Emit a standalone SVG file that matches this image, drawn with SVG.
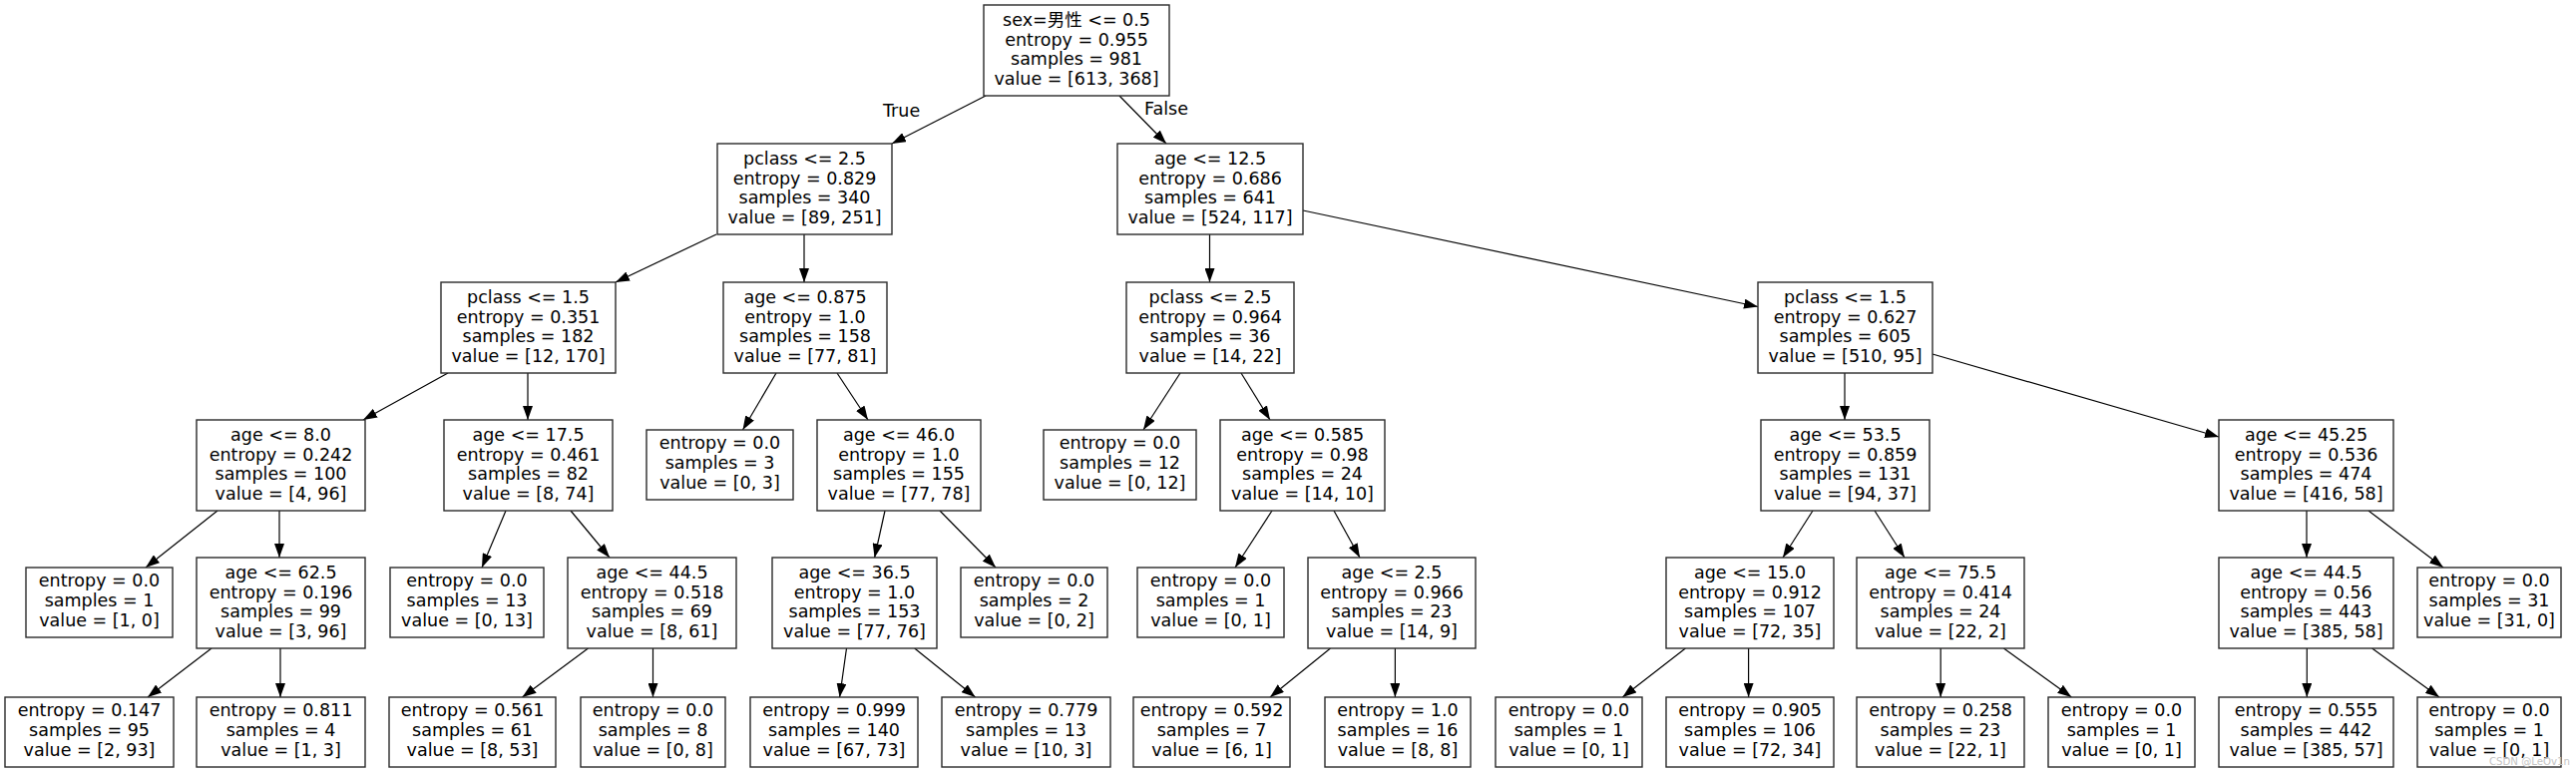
<svg xmlns="http://www.w3.org/2000/svg" width="2582" height="775" viewBox="0 0 2582 775">
<style>
rect{fill:#fff;stroke:#2a2a2a;stroke-width:1.4}
text{font-family:"DejaVu Sans","Noto Sans CJK SC",sans-serif;font-size:17.5px;fill:#000}
.node text{text-anchor:middle}
#edges line{stroke:#000;stroke-width:1.2;marker-end:url(#ah)}
.wm{font-size:11px;fill:#c4c4c4}
</style>
<defs>
<marker id="ah" markerUnits="userSpaceOnUse" markerWidth="14" markerHeight="10" viewBox="0 0 14 10" refX="14" refY="5" orient="auto"><path d="M0,0L14,5L0,10z" fill="#000"/></marker>
</defs>
<rect x="0" y="0" width="2582" height="775" style="stroke:none"/>
<g id="edges">
<line x1="988" y1="96" x2="894" y2="144"/>
<line x1="1122" y1="96" x2="1169" y2="144"/>
<line x1="718" y1="235" x2="617" y2="283"/>
<line x1="806" y1="235" x2="806" y2="283"/>
<line x1="1212.5" y1="235" x2="1212.5" y2="283"/>
<line x1="1306" y1="211" x2="1762" y2="307.5"/>
<line x1="449" y1="374" x2="364" y2="421"/>
<line x1="529" y1="374" x2="529" y2="421"/>
<line x1="778" y1="374" x2="744.5" y2="431"/>
<line x1="839" y1="374" x2="870" y2="421"/>
<line x1="1183" y1="374" x2="1146" y2="431"/>
<line x1="1244" y1="374" x2="1273" y2="421"/>
<line x1="1849" y1="374" x2="1849" y2="421"/>
<line x1="1937" y1="355" x2="2224" y2="438"/>
<line x1="218" y1="512" x2="146" y2="569"/>
<line x1="280" y1="512" x2="280" y2="559"/>
<line x1="507" y1="512" x2="483" y2="569"/>
<line x1="572" y1="512" x2="611" y2="559"/>
<line x1="887" y1="512" x2="876.6" y2="559"/>
<line x1="942" y1="512" x2="998" y2="569"/>
<line x1="1275" y1="512" x2="1238" y2="569"/>
<line x1="1337" y1="512" x2="1363" y2="559"/>
<line x1="1817" y1="512" x2="1787" y2="559"/>
<line x1="1879" y1="512" x2="1909" y2="559"/>
<line x1="2312" y1="512" x2="2312" y2="559"/>
<line x1="2374" y1="512" x2="2449" y2="569"/>
<line x1="212" y1="650" x2="148" y2="699"/>
<line x1="281" y1="650" x2="281" y2="699"/>
<line x1="589.5" y1="650" x2="523.5" y2="699"/>
<line x1="654.5" y1="650" x2="654.5" y2="699"/>
<line x1="848.5" y1="650" x2="841.6" y2="699"/>
<line x1="916.7" y1="650" x2="977.6" y2="699"/>
<line x1="1333.5" y1="650" x2="1273" y2="699"/>
<line x1="1398.4" y1="650" x2="1398.4" y2="699"/>
<line x1="1689.4" y1="650" x2="1626.3" y2="699"/>
<line x1="1752.6" y1="650" x2="1752.6" y2="699"/>
<line x1="1945.2" y1="650" x2="1945.2" y2="699"/>
<line x1="2008.4" y1="650" x2="2076.3" y2="699"/>
<line x1="2312.3" y1="650" x2="2312.3" y2="699"/>
<line x1="2377.6" y1="650" x2="2445" y2="699"/>
<text x="885" y="117">True</text>
<text x="1147" y="115">False</text>
</g>
<g id="n0" class="node" transform="translate(1079,5)"><rect x="-93" y="0" width="186" height="91"/><text><tspan x="0" y="21">sex=男性 &lt;= 0.5</tspan><tspan x="0" y="40.7">entropy = 0.955</tspan><tspan x="0" y="60.4">samples = 981</tspan><tspan x="0" y="80.1">value = [613, 368]</tspan></text></g>
<g id="n1" class="node" transform="translate(806.5,144)"><rect x="-87.5" y="0" width="175" height="91"/><text><tspan x="0" y="21">pclass &lt;= 2.5</tspan><tspan x="0" y="40.7">entropy = 0.829</tspan><tspan x="0" y="60.4">samples = 340</tspan><tspan x="0" y="80.1">value = [89, 251]</tspan></text></g>
<g id="n2" class="node" transform="translate(1213,144)"><rect x="-93" y="0" width="186" height="91"/><text><tspan x="0" y="21">age &lt;= 12.5</tspan><tspan x="0" y="40.7">entropy = 0.686</tspan><tspan x="0" y="60.4">samples = 641</tspan><tspan x="0" y="80.1">value = [524, 117]</tspan></text></g>
<g id="n3" class="node" transform="translate(529.5,283)"><rect x="-87.5" y="0" width="175" height="91"/><text><tspan x="0" y="21">pclass &lt;= 1.5</tspan><tspan x="0" y="40.7">entropy = 0.351</tspan><tspan x="0" y="60.4">samples = 182</tspan><tspan x="0" y="80.1">value = [12, 170]</tspan></text></g>
<g id="n4" class="node" transform="translate(807,283)"><rect x="-82" y="0" width="164" height="91"/><text><tspan x="0" y="21">age &lt;= 0.875</tspan><tspan x="0" y="40.7">entropy = 1.0</tspan><tspan x="0" y="60.4">samples = 158</tspan><tspan x="0" y="80.1">value = [77, 81]</tspan></text></g>
<g id="n5" class="node" transform="translate(1213,283)"><rect x="-84" y="0" width="168" height="91"/><text><tspan x="0" y="21">pclass &lt;= 2.5</tspan><tspan x="0" y="40.7">entropy = 0.964</tspan><tspan x="0" y="60.4">samples = 36</tspan><tspan x="0" y="80.1">value = [14, 22]</tspan></text></g>
<g id="n6" class="node" transform="translate(1849.5,283)"><rect x="-87.5" y="0" width="175" height="91"/><text><tspan x="0" y="21">pclass &lt;= 1.5</tspan><tspan x="0" y="40.7">entropy = 0.627</tspan><tspan x="0" y="60.4">samples = 605</tspan><tspan x="0" y="80.1">value = [510, 95]</tspan></text></g>
<g id="n7" class="node" transform="translate(281.5,421)"><rect x="-84.5" y="0" width="169" height="91"/><text><tspan x="0" y="21">age &lt;= 8.0</tspan><tspan x="0" y="40.7">entropy = 0.242</tspan><tspan x="0" y="60.4">samples = 100</tspan><tspan x="0" y="80.1">value = [4, 96]</tspan></text></g>
<g id="n8" class="node" transform="translate(529.5,421)"><rect x="-84.5" y="0" width="169" height="91"/><text><tspan x="0" y="21">age &lt;= 17.5</tspan><tspan x="0" y="40.7">entropy = 0.461</tspan><tspan x="0" y="60.4">samples = 82</tspan><tspan x="0" y="80.1">value = [8, 74]</tspan></text></g>
<g id="n9" class="node" transform="translate(721.5,431)"><rect x="-73.5" y="0" width="147" height="70"/><text><tspan x="0" y="19.3">entropy = 0.0</tspan><tspan x="0" y="39">samples = 3</tspan><tspan x="0" y="58.7">value = [0, 3]</tspan></text></g>
<g id="n10" class="node" transform="translate(901,421)"><rect x="-82" y="0" width="164" height="91"/><text><tspan x="0" y="21">age &lt;= 46.0</tspan><tspan x="0" y="40.7">entropy = 1.0</tspan><tspan x="0" y="60.4">samples = 155</tspan><tspan x="0" y="80.1">value = [77, 78]</tspan></text></g>
<g id="n11" class="node" transform="translate(1122.5,431)"><rect x="-76.5" y="0" width="153" height="70"/><text><tspan x="0" y="19.3">entropy = 0.0</tspan><tspan x="0" y="39">samples = 12</tspan><tspan x="0" y="58.7">value = [0, 12]</tspan></text></g>
<g id="n12" class="node" transform="translate(1305.5,421)"><rect x="-82.5" y="0" width="165" height="91"/><text><tspan x="0" y="21">age &lt;= 0.585</tspan><tspan x="0" y="40.7">entropy = 0.98</tspan><tspan x="0" y="60.4">samples = 24</tspan><tspan x="0" y="80.1">value = [14, 10]</tspan></text></g>
<g id="n13" class="node" transform="translate(1849.5,421)"><rect x="-84.5" y="0" width="169" height="91"/><text><tspan x="0" y="21">age &lt;= 53.5</tspan><tspan x="0" y="40.7">entropy = 0.859</tspan><tspan x="0" y="60.4">samples = 131</tspan><tspan x="0" y="80.1">value = [94, 37]</tspan></text></g>
<g id="n14" class="node" transform="translate(2311.5,421)"><rect x="-87.5" y="0" width="175" height="91"/><text><tspan x="0" y="21">age &lt;= 45.25</tspan><tspan x="0" y="40.7">entropy = 0.536</tspan><tspan x="0" y="60.4">samples = 474</tspan><tspan x="0" y="80.1">value = [416, 58]</tspan></text></g>
<g id="n15" class="node" transform="translate(99.5,569)"><rect x="-73.5" y="0" width="147" height="70"/><text><tspan x="0" y="19.3">entropy = 0.0</tspan><tspan x="0" y="39">samples = 1</tspan><tspan x="0" y="58.7">value = [1, 0]</tspan></text></g>
<g id="n16" class="node" transform="translate(281.5,559)"><rect x="-84.5" y="0" width="169" height="91"/><text><tspan x="0" y="21">age &lt;= 62.5</tspan><tspan x="0" y="40.7">entropy = 0.196</tspan><tspan x="0" y="60.4">samples = 99</tspan><tspan x="0" y="80.1">value = [3, 96]</tspan></text></g>
<g id="n17" class="node" transform="translate(468,569)"><rect x="-77" y="0" width="154" height="70"/><text><tspan x="0" y="19.3">entropy = 0.0</tspan><tspan x="0" y="39">samples = 13</tspan><tspan x="0" y="58.7">value = [0, 13]</tspan></text></g>
<g id="n18" class="node" transform="translate(653.5,559)"><rect x="-84.5" y="0" width="169" height="91"/><text><tspan x="0" y="21">age &lt;= 44.5</tspan><tspan x="0" y="40.7">entropy = 0.518</tspan><tspan x="0" y="60.4">samples = 69</tspan><tspan x="0" y="80.1">value = [8, 61]</tspan></text></g>
<g id="n19" class="node" transform="translate(856.5,559)"><rect x="-82.5" y="0" width="165" height="91"/><text><tspan x="0" y="21">age &lt;= 36.5</tspan><tspan x="0" y="40.7">entropy = 1.0</tspan><tspan x="0" y="60.4">samples = 153</tspan><tspan x="0" y="80.1">value = [77, 76]</tspan></text></g>
<g id="n20" class="node" transform="translate(1036.5,569)"><rect x="-73.5" y="0" width="147" height="70"/><text><tspan x="0" y="19.3">entropy = 0.0</tspan><tspan x="0" y="39">samples = 2</tspan><tspan x="0" y="58.7">value = [0, 2]</tspan></text></g>
<g id="n21" class="node" transform="translate(1213.5,569)"><rect x="-73.5" y="0" width="147" height="70"/><text><tspan x="0" y="19.3">entropy = 0.0</tspan><tspan x="0" y="39">samples = 1</tspan><tspan x="0" y="58.7">value = [0, 1]</tspan></text></g>
<g id="n22" class="node" transform="translate(1395,559)"><rect x="-84" y="0" width="168" height="91"/><text><tspan x="0" y="21">age &lt;= 2.5</tspan><tspan x="0" y="40.7">entropy = 0.966</tspan><tspan x="0" y="60.4">samples = 23</tspan><tspan x="0" y="80.1">value = [14, 9]</tspan></text></g>
<g id="n23" class="node" transform="translate(1754,559)"><rect x="-84" y="0" width="168" height="91"/><text><tspan x="0" y="21">age &lt;= 15.0</tspan><tspan x="0" y="40.7">entropy = 0.912</tspan><tspan x="0" y="60.4">samples = 107</tspan><tspan x="0" y="80.1">value = [72, 35]</tspan></text></g>
<g id="n24" class="node" transform="translate(1945,559)"><rect x="-84" y="0" width="168" height="91"/><text><tspan x="0" y="21">age &lt;= 75.5</tspan><tspan x="0" y="40.7">entropy = 0.414</tspan><tspan x="0" y="60.4">samples = 24</tspan><tspan x="0" y="80.1">value = [22, 2]</tspan></text></g>
<g id="n25" class="node" transform="translate(2311.5,559)"><rect x="-87.5" y="0" width="175" height="91"/><text><tspan x="0" y="21">age &lt;= 44.5</tspan><tspan x="0" y="40.7">entropy = 0.56</tspan><tspan x="0" y="60.4">samples = 443</tspan><tspan x="0" y="80.1">value = [385, 58]</tspan></text></g>
<g id="n26" class="node" transform="translate(2495,569)"><rect x="-72" y="0" width="144" height="70"/><text><tspan x="0" y="19.3">entropy = 0.0</tspan><tspan x="0" y="39">samples = 31</tspan><tspan x="0" y="58.7">value = [31, 0]</tspan></text></g>
<g id="n27" class="node" transform="translate(89.5,699)"><rect x="-84.5" y="0" width="169" height="70"/><text><tspan x="0" y="19.3">entropy = 0.147</tspan><tspan x="0" y="39">samples = 95</tspan><tspan x="0" y="58.7">value = [2, 93]</tspan></text></g>
<g id="n28" class="node" transform="translate(281.5,699)"><rect x="-84.5" y="0" width="169" height="70"/><text><tspan x="0" y="19.3">entropy = 0.811</tspan><tspan x="0" y="39">samples = 4</tspan><tspan x="0" y="58.7">value = [1, 3]</tspan></text></g>
<g id="n29" class="node" transform="translate(473.5,699)"><rect x="-83.5" y="0" width="167" height="70"/><text><tspan x="0" y="19.3">entropy = 0.561</tspan><tspan x="0" y="39">samples = 61</tspan><tspan x="0" y="58.7">value = [8, 53]</tspan></text></g>
<g id="n30" class="node" transform="translate(654.5,699)"><rect x="-72.5" y="0" width="145" height="70"/><text><tspan x="0" y="19.3">entropy = 0.0</tspan><tspan x="0" y="39">samples = 8</tspan><tspan x="0" y="58.7">value = [0, 8]</tspan></text></g>
<g id="n31" class="node" transform="translate(836,699)"><rect x="-84" y="0" width="168" height="70"/><text><tspan x="0" y="19.3">entropy = 0.999</tspan><tspan x="0" y="39">samples = 140</tspan><tspan x="0" y="58.7">value = [67, 73]</tspan></text></g>
<g id="n32" class="node" transform="translate(1028.5,699)"><rect x="-84.5" y="0" width="169" height="70"/><text><tspan x="0" y="19.3">entropy = 0.779</tspan><tspan x="0" y="39">samples = 13</tspan><tspan x="0" y="58.7">value = [10, 3]</tspan></text></g>
<g id="n33" class="node" transform="translate(1214.5,699)"><rect x="-78.5" y="0" width="157" height="70"/><text><tspan x="0" y="19.3">entropy = 0.592</tspan><tspan x="0" y="39">samples = 7</tspan><tspan x="0" y="58.7">value = [6, 1]</tspan></text></g>
<g id="n34" class="node" transform="translate(1401,699)"><rect x="-73" y="0" width="146" height="70"/><text><tspan x="0" y="19.3">entropy = 1.0</tspan><tspan x="0" y="39">samples = 16</tspan><tspan x="0" y="58.7">value = [8, 8]</tspan></text></g>
<g id="n35" class="node" transform="translate(1572.5,699)"><rect x="-73.5" y="0" width="147" height="70"/><text><tspan x="0" y="19.3">entropy = 0.0</tspan><tspan x="0" y="39">samples = 1</tspan><tspan x="0" y="58.7">value = [0, 1]</tspan></text></g>
<g id="n36" class="node" transform="translate(1754,699)"><rect x="-84" y="0" width="168" height="70"/><text><tspan x="0" y="19.3">entropy = 0.905</tspan><tspan x="0" y="39">samples = 106</tspan><tspan x="0" y="58.7">value = [72, 34]</tspan></text></g>
<g id="n37" class="node" transform="translate(1945,699)"><rect x="-84" y="0" width="168" height="70"/><text><tspan x="0" y="19.3">entropy = 0.258</tspan><tspan x="0" y="39">samples = 23</tspan><tspan x="0" y="58.7">value = [22, 1]</tspan></text></g>
<g id="n38" class="node" transform="translate(2126.5,699)"><rect x="-73.5" y="0" width="147" height="70"/><text><tspan x="0" y="19.3">entropy = 0.0</tspan><tspan x="0" y="39">samples = 1</tspan><tspan x="0" y="58.7">value = [0, 1]</tspan></text></g>
<g id="n39" class="node" transform="translate(2311.5,699)"><rect x="-87.5" y="0" width="175" height="70"/><text><tspan x="0" y="19.3">entropy = 0.555</tspan><tspan x="0" y="39">samples = 442</tspan><tspan x="0" y="58.7">value = [385, 57]</tspan></text></g>
<g id="n40" class="node" transform="translate(2495,699)"><rect x="-72" y="0" width="144" height="70"/><text><tspan x="0" y="19.3">entropy = 0.0</tspan><tspan x="0" y="39">samples = 1</tspan><tspan x="0" y="58.7">value = [0, 1]</tspan></text></g>
<text class="wm" x="2495" y="767" textLength="81" lengthAdjust="spacingAndGlyphs">CSDN @LeOv1n</text>
</svg>
